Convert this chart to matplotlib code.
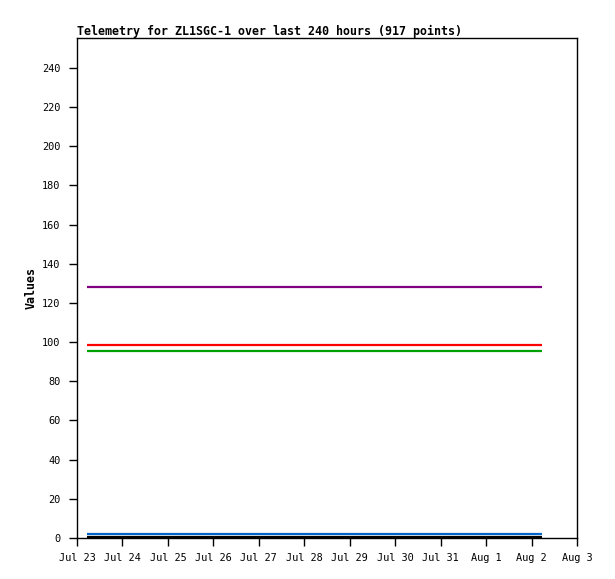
import matplotlib
matplotlib.use("Agg")
import matplotlib.pyplot as plt
import matplotlib.dates as mdates
from datetime import datetime, timedelta

# Data
start_time = datetime(2024, 7, 23, 5, 30)
end_time = start_time + timedelta(hours=240)
series_names = ["purple", "red", "green", "blue", "black"]
series_values = [128.0, 98.3, 95.4, 2.0, 0.6]
series_colors = ["#800080", "#ff0000", "#00a000", "#0066cc", "#000000"]
y_ticks = list(range(0, 241, 20))
x_tick_dates = [datetime(2024, 7, 23) + timedelta(days=i) for i in range(12)]
x_tick_labels = ["Jul 23", "Jul 24", "Jul 25", "Jul 26", "Jul 27", "Jul 28",
                 "Jul 29", "Jul 30", "Jul 31", "Aug 1", "Aug 2", "Aug 3"]
title = "Telemetry for ZL1SGC-1 over last 240 hours (917 points)"

W, H = 615, 579
fig = plt.figure(figsize=(W / 100, H / 100), dpi=100)
ax = fig.add_axes([77 / W, (H - 538) / H, 500 / W, 500 / H])

font = "DejaVu Sans Mono"
for name, val, col in zip(series_names, series_values, series_colors):
    ax.plot([start_time, end_time], [val, val], color=col, lw=1.6,
            solid_capstyle="butt")

ax.set_xlim(x_tick_dates[0], x_tick_dates[-1])
ax.set_ylim(0, 255.3)
ax.set_yticks(y_ticks)
ax.set_yticklabels([str(v) for v in y_ticks], fontfamily=font, fontsize=7.4)
ax.set_xticks([mdates.date2num(d) for d in x_tick_dates])
ax.set_xticklabels(x_tick_labels, fontfamily=font, fontsize=7.4)
ax.tick_params(axis="both", direction="out", length=6, width=1, color="black")
ax.tick_params(axis="y", pad=6)
ax.tick_params(axis="x", pad=5)
for s in ax.spines.values():
    s.set_linewidth(1)
    s.set_color("black")

ax.set_ylabel("Values", fontfamily=font, fontsize=8.4, fontweight="bold", labelpad=3)
fig.text(77 / W, 1 - 31 / H, title, fontfamily=font, fontsize=8.4,
         fontweight="bold", ha="left", va="center")

fig.savefig("out.png", dpi=100)
